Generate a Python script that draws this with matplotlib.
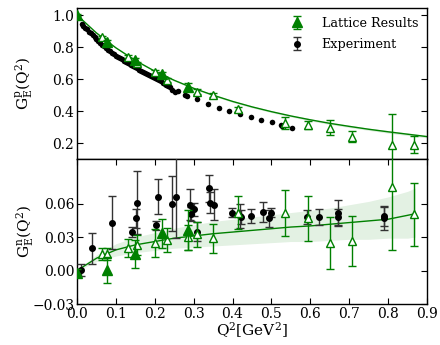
import numpy as np
import matplotlib
matplotlib.use("Agg")
import matplotlib.pyplot as plt

plt.rcParams["font.family"] = ["DejaVu Serif"]
plt.rcParams["mathtext.fontset"] = "dejavuserif"

GREEN = "#008000"

# ---------------- proton electric form factor ----------------
exp_p_q2 = [0.012, 0.016, 0.020, 0.025, 0.030, 0.035, 0.040, 0.045, 0.050, 0.055,
            0.060, 0.065, 0.070, 0.075, 0.080, 0.085, 0.090, 0.095, 0.100, 0.105,
            0.110, 0.115, 0.120, 0.125, 0.130, 0.135, 0.140, 0.145, 0.150, 0.155,
            0.160, 0.165, 0.170, 0.175, 0.180, 0.185, 0.190, 0.195, 0.200, 0.205,
            0.210, 0.215, 0.220, 0.225, 0.230, 0.235, 0.240,
            0.244, 0.252, 0.260, 0.278, 0.283, 0.309, 0.336, 0.364, 0.391, 0.419,
            0.447, 0.474, 0.501, 0.524, 0.528, 0.553]
exp_p_val = [0.942, 0.932, 0.922, 0.910, 0.897, 0.885, 0.873, 0.862, 0.850, 0.838,
             0.826, 0.815, 0.804, 0.794, 0.784, 0.774, 0.765, 0.756, 0.747, 0.739,
             0.731, 0.723, 0.715, 0.708, 0.701, 0.694, 0.687, 0.680, 0.673, 0.666,
             0.659, 0.652, 0.646, 0.639, 0.632, 0.625, 0.618, 0.612, 0.605, 0.598,
             0.591, 0.585, 0.578, 0.571, 0.564, 0.557, 0.550,
             0.531, 0.521, 0.526, 0.500, 0.494, 0.472, 0.442, 0.417, 0.400, 0.381,
             0.361, 0.344, 0.329, 0.312, 0.307, 0.296]

lat_p_open_q2 = [0.063, 0.132, 0.155, 0.200, 0.231, 0.308, 0.350, 0.415,
                 0.535, 0.593, 0.651, 0.706, 0.811, 0.867]
lat_p_open_val = [0.864, 0.740, 0.698, 0.646, 0.594, 0.521, 0.500, 0.410,
                  0.323, 0.312, 0.296, 0.240, 0.190, 0.190]
lat_p_open_err = [0.008, 0.010, 0.010, 0.012, 0.012, 0.015, 0.010, 0.015,
                  0.038, 0.026, 0.049, 0.035, 0.190, 0.054]

lat_p_fill_q2 = [0.0, 0.076, 0.149, 0.218, 0.285]
lat_p_fill_val = [1.0, 0.833, 0.719, 0.631, 0.550]
lat_p_fill_err = [0.005, 0.012, 0.014, 0.014, 0.028]

fit_q2 = [0.00, 0.05, 0.10, 0.15, 0.20, 0.25, 0.30, 0.35, 0.40, 0.45,
          0.50, 0.55, 0.60, 0.65, 0.70, 0.75, 0.80, 0.85, 0.90]
fit_p = [1.000, 0.888, 0.795, 0.716, 0.649, 0.592, 0.542, 0.499, 0.460, 0.426,
         0.396, 0.369, 0.345, 0.323, 0.304, 0.286, 0.270, 0.255, 0.240]
fit_p_half = [0.000, 0.002, 0.003, 0.004, 0.004, 0.005, 0.005, 0.005, 0.006, 0.006,
              0.006, 0.006, 0.007, 0.007, 0.007, 0.007, 0.008, 0.008, 0.008]

# ---------------- neutron electric form factor ----------------
exp_n_q2 = [0.0095, 0.039, 0.089, 0.141, 0.151, 0.155, 0.203, 0.209, 0.245, 0.255,
            0.291, 0.293, 0.301, 0.309, 0.339, 0.342, 0.352, 0.399, 0.419, 0.422,
            0.447, 0.477, 0.494, 0.500, 0.591, 0.623, 0.670, 0.670, 0.789, 0.789]
exp_n_val = [0.0005, 0.020, 0.043, 0.0345, 0.047, 0.061, 0.0407, 0.066, 0.060, 0.066,
             0.059, 0.0506, 0.055, 0.035, 0.0736, 0.061, 0.059, 0.052, 0.049, 0.048,
             0.049, 0.0527, 0.0467, 0.0517, 0.048, 0.048, 0.0517, 0.048, 0.0488, 0.0467]
exp_n_err = [0.005, 0.014, 0.024, 0.0045, 0.0085, 0.028, 0.004, 0.0157, 0.0246, 0.037,
             0.014, 0.006, 0.006, 0.0085, 0.012, 0.009, 0.014, 0.004, 0.0105, 0.006,
             0.006, 0.009, 0.0075, 0.004, 0.0067, 0.0073, 0.0115, 0.007, 0.009, 0.010]

lat_n_open_q2 = [0.063, 0.076, 0.132, 0.155, 0.200, 0.231, 0.285, 0.308,
                 0.350, 0.415, 0.535, 0.593, 0.651, 0.706, 0.811, 0.867]
lat_n_open_val = [0.0148, 0.0148, 0.0199, 0.0228, 0.0249, 0.0273, 0.0297, 0.0324,
                  0.0288, 0.052, 0.0512, 0.0467, 0.0249, 0.0267, 0.075, 0.0503]
lat_n_open_err = [0.005, 0.005, 0.008, 0.009, 0.0124, 0.0105, 0.011, 0.011,
                  0.013, 0.015, 0.0206, 0.0198, 0.0234, 0.0222, 0.057, 0.028]

lat_n_fill_q2 = [0.0, 0.076, 0.149, 0.218, 0.285]
lat_n_fill_val = [-0.002, 0.0005, 0.0148, 0.0333, 0.0363]
lat_n_fill_err = [0.003, 0.0115, 0.0123, 0.0127, 0.0178]

fit_n_q2 = [0.00, 0.05, 0.10, 0.15, 0.20, 0.25, 0.30, 0.35, 0.40, 0.45,
            0.50, 0.55, 0.60, 0.65, 0.70, 0.75, 0.80, 0.85, 0.87]
fit_n = [0.000, 0.011, 0.0185, 0.023, 0.026, 0.029, 0.031, 0.033, 0.0345, 0.036,
         0.0375, 0.039, 0.040, 0.0415, 0.043, 0.0445, 0.046, 0.0495, 0.051]
fit_n_hi = [0.0005, 0.014, 0.024, 0.030, 0.034, 0.038, 0.041, 0.044, 0.046, 0.048,
            0.050, 0.052, 0.054, 0.056, 0.059, 0.062, 0.066, 0.071, 0.074]
fit_n_lo = [-0.0005, 0.008, 0.013, 0.016, 0.018, 0.020, 0.021, 0.022, 0.023, 0.024,
            0.025, 0.026, 0.026, 0.027, 0.028, 0.028, 0.029, 0.029, 0.030]

x_ticks = [0.0, 0.1, 0.2, 0.3, 0.4, 0.5, 0.6, 0.7, 0.8, 0.9]
p_ticks = [0.2, 0.4, 0.6, 0.8, 1.0]
n_ticks = [-0.03, 0.00, 0.03, 0.06]

fig = plt.figure(figsize=(4.4, 3.45), dpi=100)
W, H = 440.0, 345.0
ax1 = fig.add_axes([77 / W, 1 - 159 / H, 350 / W, 151 / H])
ax2 = fig.add_axes([77 / W, 1 - 304 / H, 350 / W, 145 / H])

for ax in (ax1, ax2):
    ax.tick_params(direction="in", length=4, width=0.8, labelsize=10,
                   right=True, pad=2)
    for s in ax.spines.values():
        s.set_linewidth(1.0)
    ax.set_xlim(0.0, 0.9)

open_kw = dict(fmt="^", mfc="white", mec=GREEN, ecolor=GREEN, ms=6.2, mew=1.0,
               capsize=2.6, elinewidth=1.0, capthick=1.0)
fill_kw = dict(fmt="^", color=GREEN, ms=6.6, capsize=2.6, elinewidth=1.0,
               capthick=1.0)

# top panel
ax1.fill_between(fit_q2, np.array(fit_p) - np.array(fit_p_half),
                 np.array(fit_p) + np.array(fit_p_half),
                 color=GREEN, alpha=0.15, lw=0)
ax1.plot(fit_q2, fit_p, color=GREEN, lw=1.0)
ax1.plot(exp_p_q2, exp_p_val, "o", color="black", ms=4.0, mec="none", zorder=3)
ax1.errorbar(lat_p_open_q2, lat_p_open_val, yerr=lat_p_open_err, zorder=4, **open_kw)
ax1.errorbar(lat_p_fill_q2, lat_p_fill_val, yerr=lat_p_fill_err, zorder=5, **fill_kw)
ax1.set_ylim(0.1, 1.044)
ax1.set_yticks(p_ticks)
ax1.set_xticks(x_ticks)
ax1.tick_params(axis="x", bottom=False, labelbottom=False)
ax1.set_ylabel(r"$\mathrm{G_E^p(Q^2)}$", fontsize=11)

# bottom panel
ax2.fill_between(fit_n_q2, fit_n_lo, fit_n_hi, color=GREEN, alpha=0.11, lw=0)
ax2.plot(fit_n_q2, fit_n, color=GREEN, lw=1.0)
h_exp = ax2.errorbar(exp_n_q2, exp_n_val, yerr=exp_n_err, fmt="o", color="black",
                     ecolor="#333333", ms=4.0, capsize=2.6, elinewidth=1.0,
                     capthick=1.0, zorder=3, label="Experiment")
ax2.errorbar(lat_n_open_q2, lat_n_open_val, yerr=lat_n_open_err, zorder=4, **open_kw)
h_lat = ax2.errorbar(lat_n_fill_q2, lat_n_fill_val, yerr=lat_n_fill_err, zorder=5,
                     label="Lattice Results", **fill_kw)
ax2.set_ylim(-0.03, 0.1)
ax2.set_yticks(n_ticks)
ax2.set_yticklabels(["\u22120.03", "0.00", "0.03", "0.06"])
ax2.set_xticks(x_ticks)
ax2.set_xticklabels([f"{v:.1f}" for v in x_ticks])
ax2.tick_params(axis="x", top=True)
ax2.set_ylabel(r"$\mathrm{G_E^n(Q^2)}$", fontsize=11)
ax2.set_xlabel(r"$\mathrm{Q^2[GeV^2]}$", fontsize=11, labelpad=0)

ax1.yaxis.set_label_coords(-0.117, 0.5)
ax2.yaxis.set_label_coords(-0.117, 0.5)

ax1.legend(handles=[h_lat, h_exp], loc="upper right", frameon=False,
           fontsize=9.2, handletextpad=0.9, borderaxespad=0.3,
           bbox_to_anchor=(1.0, 1.0), labelspacing=0.65)

fig.savefig("out.png", dpi=100)
